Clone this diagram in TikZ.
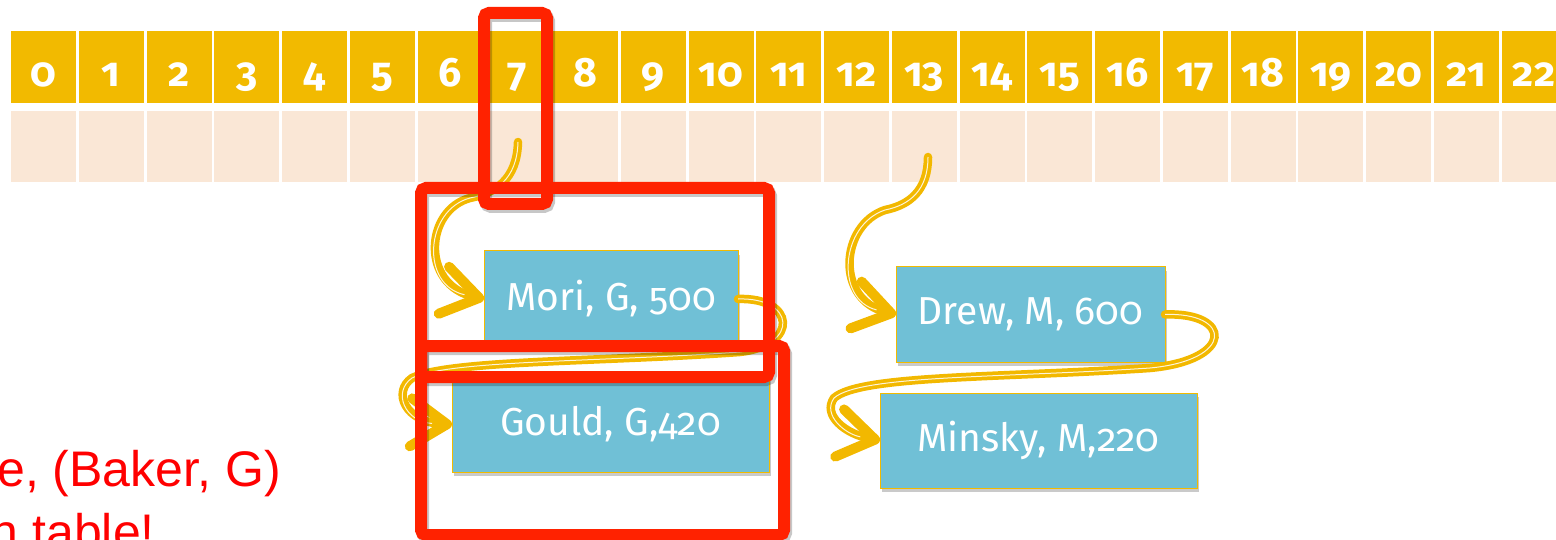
\documentclass[tikz,border=0pt]{standalone}
\usepackage{fontspec}
\setmainfont{Fira Sans}[Numbers=OldStyle]
\newfontfamily\arialfont{Liberation Sans}
\usetikzlibrary{arrows.meta,shadows}
\definecolor{hdr}{RGB}{242,186,0}
\definecolor{low}{RGB}{250,231,214}
\definecolor{boxblue}{RGB}{112,192,214}
\definecolor{redbox}{RGB}{255,34,0}
\definecolor{arrowgold}{RGB}{242,184,0}
\begin{document}
\begin{tikzpicture}[x=1pt,y=-1pt,
  hcell/.style={fill=hdr, draw=none, minimum width=65pt, minimum height=72pt, inner sep=0pt, outer sep=0pt},
  lcell/.style={fill=low, draw=none, minimum width=65pt, minimum height=71pt, inner sep=0pt, outer sep=0pt},
  digit/.style={text=white, font=\fontsize{41}{41}\selectfont\bfseries, inner sep=0pt, anchor=base},
  rec/.style={fill=boxblue, draw=hdr, line width=1pt, inner sep=0pt, outer sep=0pt, text=white,
    font=\fontsize{39}{39}\selectfont,
    drop shadow={shadow xshift=2pt, shadow yshift=-4pt, opacity=0.35, fill=black!60}},
  goldarrow/.style={draw=arrowgold, line width=8.5pt, line cap=round,
    -{Straight Barb[length=36pt,width=48pt,line width=10pt,round]}},
  shine/.style={draw=white, line width=1pt, opacity=0.85, shorten >=20pt},
  frame/.style={draw=redbox, line width=12pt, rounded corners=5pt, inner sep=0pt, outer sep=0pt, fill=none},
  frameshadow/.style={draw=black, opacity=0.22, line width=12pt, rounded corners=5pt, inner sep=0pt, outer sep=0pt, fill=none},
  redtxt/.style={text=red, font=\arialfont\fontsize{50}{50}\selectfont, inner sep=0pt}
]
\useasboundingbox (0,0) rectangle (1556,540);

% array cells
\foreach \i in {0,...,22} {
  \pgfmathsetmacro\cx{11+67.75*\i+32.5}
  \node[hcell] (h\i) at (\cx,67) {};
  \node[lcell] (v\i) at (\cx,146.5) {};
  \node[digit] (d\i) at (\cx,87) {\i};
}

% record boxes
\node[rec, minimum width=254pt, minimum height=96pt] (mori) at (611,299) {Mori, G, 500};
\node[rec, minimum width=317pt, minimum height=95pt] (gould) at (610.5,424.5) {Gould, G,420};
\node[rec, minimum width=269pt, minimum height=95pt] (drew) at (1030.5,314.5) {Drew, M, 600};
\node[rec, minimum width=317pt, minimum height=95pt] (minsky) at (1038.5,440.5) {Minsky, M,220};

% arrow start points in the array
\coordinate (p7) at (518,142);
\coordinate (p13) at (928,157);

\def\pathA{(p7) .. controls (517,180) and (495,193) .. (470,198) .. controls (425,210) and (420,285) .. (mori.west)}
\def\pathB{(mori.east) .. controls (795,297) and (800,345) .. (740,352) .. controls (600,362) and (450,360) .. (412,378) .. controls (392,392) and (405,422) .. (gould.west)}
\def\pathC{(p13) .. controls (928,190) and (910,205) .. (885,210) .. controls (840,225) and (835,300) .. (drew.west)}
\def\pathD{(drew.east) .. controls (1232,312) and (1235,360) .. (1150,368) .. controls (1000,378) and (860,375) .. (834,398) .. controls (822,415) and (845,434) .. (minsky.west)}

\draw[goldarrow] \pathA;  \draw[shine] \pathA;
\draw[goldarrow] \pathB;  \draw[shine] \pathB;
\draw[goldarrow] \pathC;  \draw[shine] \pathC;
\draw[goldarrow] \pathD;  \draw[shine] \pathD;

% red highlight frames
\node[frameshadow, minimum width=63pt, minimum height=191pt] (s1) at (517.5,111.5) {};
\node[frameshadow, minimum width=348pt, minimum height=189pt] (s2) at (597,285.5) {};
\node[frameshadow, minimum width=363pt, minimum height=189pt] (s3) at (604.5,443.5) {};
\node[frame, minimum width=63pt, minimum height=191pt] (f1) at (515.5,108.5) {};
\node[frame, minimum width=348pt, minimum height=189pt] (f2) at (595,282.5) {};
\node[frame, minimum width=363pt, minimum height=189pt] (f3) at (602.5,440.5) {};

% red annotation text (partly cut off, as in the reference)
\node[redtxt, anchor=base east] (t1) at (281,486) {e, (Baker, G)};
\node[redtxt, anchor=base east] (t2) at (155,549) {n table!};
\end{tikzpicture}
\end{document}
